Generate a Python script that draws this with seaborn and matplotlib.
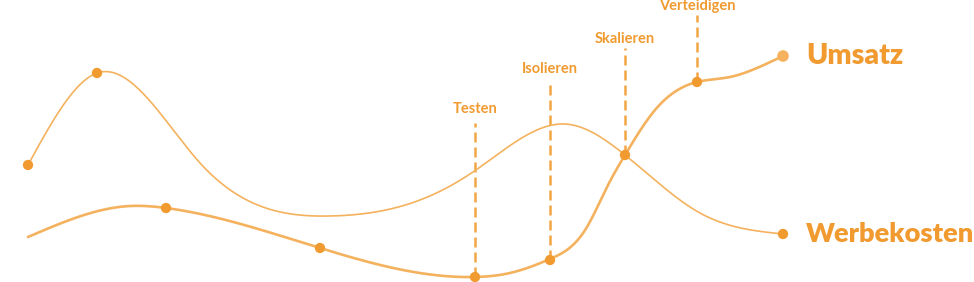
import numpy as np
import pandas as pd
import matplotlib
matplotlib.use("Agg")
import matplotlib.pyplot as plt
import seaborn as sns

# ---- data (x position, height above bottom edge) ----
umsatz_x = [28, 130, 166, 320, 475, 510, 550, 587, 607, 625, 655, 697, 730, 757, 783]
umsatz_y = [45, 76, 74, 34, 5, 9, 23, 55, 95, 127, 172, 200, 205, 214, 226]
umsatz_marker_x = [166, 320, 475, 550, 625, 697]
umsatz_marker_y = [74, 34, 5, 22, 127, 200]

werbe_x = [28, 97, 200, 330, 420, 473, 565, 625, 700, 783]
werbe_y = [117, 209, 119, 66, 82, 110, 158, 127, 69, 48]
werbe_marker_x = [28, 97, 783]
werbe_marker_y = [117, 209, 48]

phases = ["Testen", "Isolieren", "Skalieren", "Verteidigen"]
phase_x = [475, 550, 625, 697]
phase_bottom = [5, 22, 127, 200]
phase_top = [159, 202, 234, 267]
phase_label_y = [169, 209, 239, 272]

series_names = ["Umsatz", "Werbekosten"]

ORANGE = "#F09A30"
LIGHT = "#F4B25E"
DASH = "#F2A544"


def natural_spline(x, y, xs):
    x = np.asarray(x, float)
    y = np.asarray(y, float)
    n = len(x)
    h = np.diff(x)
    A = np.zeros((n, n))
    r = np.zeros(n)
    A[0, 0] = 1
    A[-1, -1] = 1
    for i in range(1, n - 1):
        A[i, i - 1] = h[i - 1]
        A[i, i] = 2 * (h[i - 1] + h[i])
        A[i, i + 1] = h[i]
        r[i] = 6 * ((y[i + 1] - y[i]) / h[i] - (y[i] - y[i - 1]) / h[i - 1])
    M = np.linalg.solve(A, r)
    k = np.clip(np.searchsorted(x, xs) - 1, 0, n - 2)
    t1 = x[k + 1] - xs
    t0 = xs - x[k]
    hk = h[k]
    return (M[k] * t1**3 / (6 * hk) + M[k + 1] * t0**3 / (6 * hk)
            + (y[k] / hk - M[k] * hk / 6) * t1 + (y[k + 1] / hk - M[k + 1] * hk / 6) * t0)


sns.set_theme(style="white")
plt.rcParams["font.family"] = ["Lato", "DejaVu Sans"]

fig = plt.figure(figsize=(9.74, 2.82), dpi=100)
ax = fig.add_axes([0, 0, 1, 1])
ax.set_xlim(0, 974)
ax.set_ylim(0, 282)
ax.axis("off")

xs_u = np.linspace(umsatz_x[0], umsatz_x[-1], 800)
df_u = pd.DataFrame({"x": xs_u, "y": natural_spline(umsatz_x, umsatz_y, xs_u)})
xs_w = np.linspace(werbe_x[0], werbe_x[-1], 800)
df_w = pd.DataFrame({"x": xs_w, "y": natural_spline(werbe_x, werbe_y, xs_w)})

# dashed phase lines
for name, px, b, t, ly in zip(phases, phase_x, phase_bottom, phase_top, phase_label_y):
    ax.plot([px, px], [b, t], color=DASH, lw=1.8, ls=(0, (4, 2)), zorder=1)
    ax.text(px, ly, name, color=ORANGE, fontsize=10.5, fontweight="bold",
            ha="center", va="baseline")

sns.lineplot(data=df_w, x="x", y="y", ax=ax, color=LIGHT, lw=1.2, zorder=2, sort=False)
sns.lineplot(data=df_u, x="x", y="y", ax=ax, color=LIGHT, lw=1.9, zorder=3, sort=False)

sns.scatterplot(x=umsatz_marker_x, y=umsatz_marker_y, ax=ax, color=ORANGE, s=55,
                edgecolor="none", zorder=4)
sns.scatterplot(x=werbe_marker_x, y=werbe_marker_y, ax=ax, color=ORANGE, s=55,
                edgecolor="none", zorder=4)
sns.scatterplot(x=[umsatz_x[-1]], y=[umsatz_y[-1]], ax=ax, color=LIGHT, s=70,
                edgecolor="none", zorder=4)

ax.text(806, umsatz_y[-1], series_names[0], color=ORANGE, fontsize=20.5,
        fontweight="heavy", ha="left", va="center")
ax.text(806, werbe_y[-1], series_names[1], color=ORANGE, fontsize=19.6,
        fontweight="heavy", ha="left", va="center")

fig.savefig("out.png", dpi=100)
